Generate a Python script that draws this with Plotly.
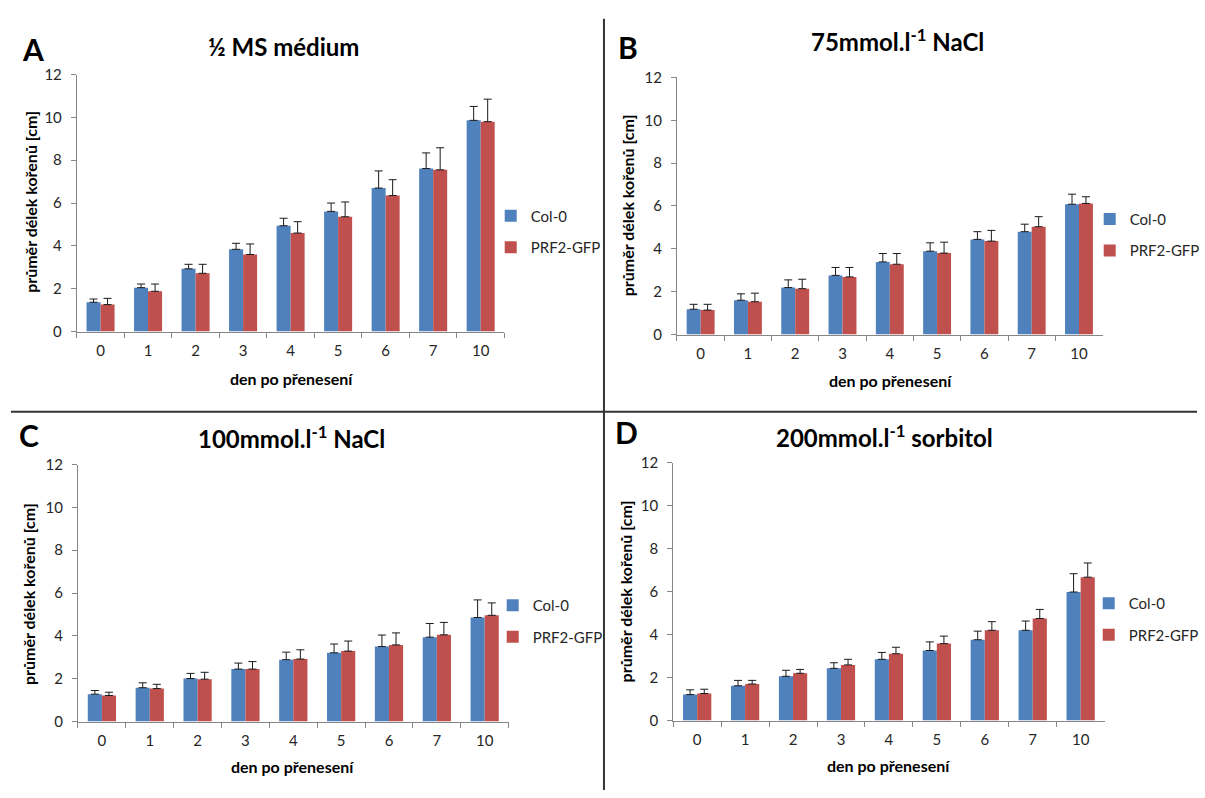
import plotly.graph_objects as go

W, H = 1205, 798

days = ["0", "1", "2", "3", "4", "5", "6", "7", "10"]
series_names = ["Col-0", "PRF2-GFP"]

# Panel A: 1/2 MS medium
a_col = [1.37, 2.05, 2.93, 3.84, 4.94, 5.61, 6.70, 7.61, 9.86]
a_col_err = [0.15, 0.17, 0.21, 0.28, 0.35, 0.39, 0.80, 0.73, 0.65]
a_prf = [1.26, 1.88, 2.72, 3.60, 4.60, 5.36, 6.35, 7.55, 9.80]
a_prf_err = [0.29, 0.34, 0.42, 0.49, 0.53, 0.69, 0.74, 1.03, 1.05]

# Panel B: 75 mmol/l NaCl
b_col = [1.18, 1.60, 2.19, 2.76, 3.39, 3.89, 4.44, 4.80, 6.08]
b_col_err = [0.23, 0.30, 0.36, 0.37, 0.39, 0.39, 0.36, 0.35, 0.47]
b_prf = [1.14, 1.53, 2.14, 2.69, 3.28, 3.80, 4.36, 5.03, 6.12]
b_prf_err = [0.27, 0.40, 0.44, 0.44, 0.50, 0.51, 0.50, 0.47, 0.31]

# Panel C: 100 mmol/l NaCl
c_col = [1.28, 1.58, 2.01, 2.45, 2.89, 3.21, 3.50, 3.94, 4.86]
c_col_err = [0.17, 0.23, 0.24, 0.28, 0.35, 0.41, 0.54, 0.64, 0.82]
c_prf = [1.22, 1.54, 1.98, 2.45, 2.92, 3.29, 3.58, 4.05, 4.96]
c_prf_err = [0.15, 0.20, 0.32, 0.35, 0.43, 0.47, 0.56, 0.58, 0.58]

# Panel D: 200 mmol/l sorbitol
d_col = [1.21, 1.62, 2.06, 2.43, 2.85, 3.26, 3.76, 4.20, 5.98]
d_col_err = [0.22, 0.25, 0.28, 0.26, 0.32, 0.40, 0.40, 0.43, 0.85]
d_prf = [1.26, 1.70, 2.20, 2.59, 3.11, 3.58, 4.20, 4.75, 6.67]
d_prf_err = [0.20, 0.17, 0.18, 0.26, 0.30, 0.35, 0.40, 0.42, 0.66]

letters = ["A", "B", "C", "D"]
titles = ["½ MS médium", "75mmol.l<sup>-1</sup> NaCl",
          "100mmol.l<sup>-1</sup> NaCl", "200mmol.l<sup>-1</sup> sorbitol"]
y_title = "průměr délek kořenů [cm]"
x_title = "den po přenesení"

COL_BLUE = "#4F81BD"
COL_RED = "#C0504D"
AXIS_GREY = "#868686"
TXT = "#262626"
FONT = "Lato"


def px(x):
    return x / W


def py(y):
    return 1 - y / H


# layout geometry (pixels): x domain, y (top, bottom)
panels = [
    dict(x=(77.3, 507.8), y=(66, 329), letter=(33, 40), title=(285, 37),
         ytit=(30, 196.5), xtit=(293, 376.7), leg=(494, 226.5)),
    dict(x=(681.5, 1110), y=(69, 332), letter=(632, 38), title=(903, 31),
         ytit=(632, 200), xtit=(896, 379.3), leg=(1097, 230)),
    dict(x=(78.5, 512), y=(465, 728), letter=(29, 434.5), title=(293, 437),
         ytit=(28.7, 598), xtit=(294.7, 774.3), leg=(496, 625)),
    dict(x=(677.7, 1112), y=(463, 727), letter=(631, 432), title=(890, 435.5),
         ytit=(630, 595), xtit=(894.7, 773.3), leg=(1096, 623)),
]

data = [
    (a_col, a_col_err, a_prf, a_prf_err),
    (b_col, b_col_err, b_prf, b_prf_err),
    (c_col, c_col_err, c_prf, c_prf_err),
    (d_col, d_col_err, d_prf, d_prf_err),
]

fig = go.Figure()
layout = dict(
    width=W, height=H, margin=dict(l=0, r=0, t=0, b=0),
    paper_bgcolor="white", plot_bgcolor="white",
    barmode="group", bargap=0.41, bargroupgap=0,
    font=dict(family=FONT, color=TXT, size=15),
    annotations=[], shapes=[],
)

for i, (p, (cv, ce, pv, pe)) in enumerate(zip(panels, data)):
    n = "" if i == 0 else str(i + 1)
    xa, ya = "x" + n, "y" + n
    legname = "legend" + n
    for name, vals, errs, color in ((series_names[0], cv, ce, COL_BLUE),
                                    (series_names[1], pv, pe, COL_RED)):
        fig.add_trace(go.Bar(
            x=days, y=vals, name=name, xaxis=xa, yaxis=ya,
            marker=dict(color=color, line=dict(width=0)),
            error_y=dict(type="data", symmetric=False, array=errs,
                         arrayminus=[0] * len(errs), color="#1a1a1a",
                         thickness=1, width=4),
            legend=legname, legendgroup=f"{name}{i}",
        ))
    layout["xaxis" + n] = dict(
        domain=[px(p["x"][0]), px(p["x"][1])], anchor=ya, type="category",
        showline=True, linecolor=AXIS_GREY, linewidth=1,
        ticks="outside", tickson="boundaries", ticklen=5, tickcolor=AXIS_GREY,
        showgrid=False, zeroline=False, ticklabelstandoff=5,
        tickfont=dict(size=15, color=TXT, family=FONT),
    )
    layout["yaxis" + n] = dict(
        domain=[py(p["y"][1]), py(p["y"][0])], anchor=xa,
        range=[0, 12], tickvals=[0, 2, 4, 6, 8, 10, 12],
        showline=True, linecolor=AXIS_GREY, linewidth=1,
        ticks="outside", ticklen=5, tickcolor=AXIS_GREY,
        showgrid=False, zeroline=False, ticklabelstandoff=6,
        tickfont=dict(size=15, color=TXT, family=FONT),
    )
    layout[legname] = dict(
        x=px(p["leg"][0]), y=py(p["leg"][1]), xanchor="left", yanchor="middle",
        bgcolor="rgba(0,0,0,0)", font=dict(size=15, color=TXT, family=FONT),
        tracegroupgap=9, itemwidth=30,
    )
    ann = layout["annotations"]
    ann.append(dict(text=letters[i], x=px(p["letter"][0]), y=py(p["letter"][1]),
                    xref="paper", yref="paper", showarrow=False,
                    xanchor="center", yanchor="middle",
                    font=dict(size=30, color="black", family=FONT, weight="bold")))
    ann.append(dict(text=titles[i], x=px(p["title"][0]), y=py(p["title"][1]),
                    xref="paper", yref="paper", showarrow=False,
                    xanchor="center", yanchor="middle",
                    font=dict(size=24, color="black", family=FONT, weight="bold")))
    ann.append(dict(text=y_title, x=px(p["ytit"][0]), y=py(p["ytit"][1]),
                    xref="paper", yref="paper", showarrow=False, textangle=-90,
                    xanchor="center", yanchor="middle",
                    font=dict(size=16, color="black", family=FONT, weight="bold")))
    ann.append(dict(text=x_title, x=px(p["xtit"][0]), y=py(p["xtit"][1]),
                    xref="paper", yref="paper", showarrow=False,
                    xanchor="center", yanchor="middle",
                    font=dict(size=16, color="black", family=FONT, weight="bold")))

layout["shapes"] = [
    dict(type="line", xref="paper", yref="paper", x0=px(608), x1=px(608),
         y0=py(9), y1=py(798), line=dict(color="#333333", width=2)),
    dict(type="line", xref="paper", yref="paper", x0=px(11), x1=px(1205),
         y0=py(411), y1=py(411), line=dict(color="#333333", width=2)),
]

fig.update_layout(**layout)
fig.write_html("out.html")
